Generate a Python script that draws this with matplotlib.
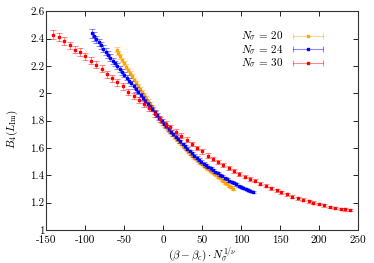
import matplotlib
matplotlib.use("Agg")
import matplotlib.pyplot as plt
from matplotlib.colors import to_rgba
from matplotlib.legend_handler import HandlerBase
from matplotlib.lines import Line2D
from matplotlib.ticker import FuncFormatter

plt.rcParams["font.family"] = ["cmr10", "DejaVu Serif"]
plt.rcParams["mathtext.fontset"] = "cm"
plt.rcParams["axes.unicode_minus"] = False
plt.rcParams["font.size"] = 8

# N_sigma = 20
x20 = [-60, -57.5, -55, -52.5, -50, -47.5, -45, -42.5, -40, -37.5, -35, -32.5, -30,
       -27.5, -25, -22.5, -20, -17.5, -15, -12.5, -10, -7.5, -5, -2.5, 0, 2.5, 5, 7.5,
       10, 12.5, 15, 17.5, 20, 22.5, 25, 27.5, 30, 32.5, 35, 37.5, 40, 42.5, 45, 47.5,
       50, 52.5, 55, 57.5, 60, 62.5, 65, 67.5, 70, 72.5, 75, 77.5, 80, 82.5, 85, 87.5, 90]
y20 = [2.320, 2.295, 2.270, 2.245, 2.220, 2.196, 2.172, 2.149, 2.125, 2.101, 2.077, 2.054,
       2.030, 2.008, 1.987, 1.966, 1.945, 1.924, 1.902, 1.881, 1.860, 1.840, 1.820, 1.800,
       1.780, 1.762, 1.745, 1.727, 1.710, 1.694, 1.677, 1.661, 1.645, 1.630, 1.615, 1.600,
       1.585, 1.571, 1.557, 1.544, 1.530, 1.517, 1.505, 1.492, 1.480, 1.468, 1.457, 1.446,
       1.435, 1.424, 1.413, 1.401, 1.390, 1.379, 1.367, 1.356, 1.345, 1.334, 1.322, 1.311, 1.300]
e20 = [0.016, 0.016, 0.016, 0.015, 0.015, 0.015, 0.015, 0.014, 0.014, 0.014,
       0.014, 0.013, 0.013, 0.013, 0.013, 0.012, 0.012, 0.012, 0.012, 0.011,
       0.011, 0.011, 0.011, 0.010, 0.010, 0.010, 0.010, 0.010, 0.009, 0.009,
       0.009, 0.009, 0.009, 0.009, 0.008, 0.008, 0.008, 0.008, 0.008, 0.008,
       0.008, 0.007, 0.007, 0.007, 0.007, 0.007, 0.007, 0.007, 0.007, 0.007,
       0.006, 0.006, 0.006, 0.006, 0.006, 0.006, 0.006, 0.006, 0.006, 0.006, 0.006]

# N_sigma = 24
x24 = [-92, -89, -86, -83, -80, -77, -74, -71, -68, -65, -62, -59, -56, -53, -50, -47,
       -44, -41, -38, -35, -32, -29, -26, -23, -20, -17, -14, -11, -8, -5, -2, 1, 4, 7,
       10, 13, 16, 19, 22, 25, 28, 31, 34, 37, 40, 43, 46, 49, 52, 55, 58, 61, 64, 67,
       70, 73, 76, 79, 82, 85, 88, 91, 94, 97, 100, 103, 106, 109, 112, 115]
y24 = [2.438, 2.416, 2.394, 2.372, 2.350, 2.327, 2.305, 2.282, 2.261, 2.240,
       2.219, 2.198, 2.177, 2.156, 2.135, 2.114, 2.093, 2.072, 2.051, 2.030,
       2.009, 1.988, 1.967, 1.946, 1.925, 1.904, 1.883, 1.862, 1.841, 1.820,
       1.799, 1.779, 1.759, 1.739, 1.720, 1.702, 1.684, 1.666, 1.648, 1.630,
       1.612, 1.595, 1.578, 1.561, 1.545, 1.530, 1.515, 1.500, 1.486, 1.472,
       1.461, 1.451, 1.439, 1.427, 1.415, 1.404, 1.393, 1.382, 1.371, 1.361,
       1.351, 1.342, 1.333, 1.324, 1.315, 1.307, 1.300, 1.292, 1.285, 1.278]
e24 = [0.030, 0.030, 0.029, 0.028, 0.027, 0.026, 0.025, 0.024, 0.023, 0.022,
       0.021, 0.021, 0.020, 0.020, 0.019, 0.019, 0.018, 0.018, 0.017, 0.017,
       0.016, 0.016, 0.015, 0.015, 0.015, 0.014, 0.014, 0.014, 0.013, 0.013,
       0.013, 0.012, 0.012, 0.012, 0.012, 0.011, 0.011, 0.011, 0.011, 0.010,
       0.010, 0.010, 0.010, 0.010, 0.010, 0.009, 0.009, 0.009, 0.009, 0.009,
       0.009, 0.009, 0.008, 0.008, 0.008, 0.008, 0.008, 0.008, 0.008, 0.008,
       0.008, 0.008, 0.008, 0.008, 0.008, 0.008, 0.008, 0.008, 0.008, 0.008]

# N_sigma = 30
x30 = [-141, -134, -127, -120, -113, -107, -100, -93, -86, -79, -72, -66, -59, -52,
       -45, -38, -31, -25, -18, -11, -4, 3, 9, 16, 23, 30, 37, 43, 50, 57, 64, 71, 77,
       84, 91, 98, 105, 111, 118, 125, 132, 139, 146, 152, 159, 166, 173, 180, 187,
       193, 200, 207, 214, 221, 228, 234, 240]
y30 = [2.43, 2.41, 2.38, 2.35, 2.32, 2.30, 2.27, 2.24, 2.21, 2.18, 2.14, 2.11, 2.08,
       2.05, 2.01, 1.98, 1.95, 1.92, 1.89, 1.85, 1.81, 1.775, 1.75, 1.72, 1.69, 1.66,
       1.63, 1.60, 1.575, 1.545, 1.52, 1.50, 1.475, 1.455, 1.43, 1.41, 1.39, 1.375,
       1.36, 1.34, 1.325, 1.305, 1.29, 1.275, 1.26, 1.245, 1.232, 1.222, 1.21, 1.20,
       1.19, 1.18, 1.17, 1.163, 1.155, 1.15, 1.145]
e30 = [0.030, 0.030, 0.029, 0.029, 0.028, 0.028, 0.027, 0.027, 0.026, 0.026,
       0.025, 0.025, 0.024, 0.024, 0.023, 0.023, 0.022, 0.022, 0.021, 0.021,
       0.020, 0.020, 0.019, 0.019, 0.018, 0.018, 0.017, 0.017, 0.016, 0.016,
       0.015, 0.015, 0.014, 0.014, 0.014, 0.013, 0.013, 0.013, 0.012, 0.012,
       0.012, 0.011, 0.011, 0.011, 0.010, 0.010, 0.010, 0.010, 0.009, 0.009,
       0.009, 0.009, 0.008, 0.008, 0.008, 0.008, 0.008]

series = [
    (x20, y20, e20, "orange", r"$N_\sigma\, =\, 20$"),
    (x24, y24, e24, "blue", r"$N_\sigma\, =\, 24$"),
    (x30, y30, e30, "red", r"$N_\sigma\, =\, 30$"),
]


class HorizontalErrHandler(HandlerBase):
    # gnuplot-like key sample: horizontal bar with end caps and a dot
    def create_artists(self, legend, orig_handle, xdescent, ydescent,
                       width, height, fontsize, trans):
        y = height / 2 - ydescent
        x0, x1 = -xdescent, width - xdescent
        c = orig_handle.get_color()
        light = to_rgba(c, 0.45)
        bar = Line2D([x0, x1], [y, y], color=light, lw=0.8, transform=trans)
        caps = Line2D([x0, x1], [y, y], ls="none", marker="|", ms=4.5, mew=0.8,
                      color=light, transform=trans)
        dot = Line2D([(x0 + x1) / 2], [y], ls="none", marker="s", ms=1.8,
                     color=c, transform=trans)
        return [bar, caps, dot]


fig, ax = plt.subplots(figsize=(3.74, 2.63), dpi=100)
fig.subplots_adjust(left=0.1243, right=0.9564, top=0.957, bottom=0.1255)

handles = []
for xs, ys, es, color, label in series:
    ax.errorbar(xs, ys, yerr=es, fmt="none", ecolor=to_rgba(color, 0.45),
                elinewidth=0.8, capsize=2.4, capthick=0.8)
    ax.plot(xs, ys, ls="none", marker="s", ms=1.8, color=color)
    handles.append(Line2D([], [], color=color, label=label))

ax.set_xlim(-150, 250)
ax.set_ylim(1, 2.6)
ax.set_xticks([-150, -100, -50, 0, 50, 100, 150, 200, 250])
ax.set_yticks([1, 1.2, 1.4, 1.6, 1.8, 2, 2.2, 2.4, 2.6])
ax.xaxis.set_major_formatter(FuncFormatter(lambda v, p: f"{v:g}"))
ax.yaxis.set_major_formatter(FuncFormatter(lambda v, p: f"{v:g}"))
ax.tick_params(direction="in", top=True, right=True, length=3.5, width=0.6)
ax.tick_params(axis="x", pad=4)
ax.tick_params(axis="y", pad=1.5)
for sp in ax.spines.values():
    sp.set_linewidth(0.8)
    sp.set_color("#333333")

ax.set_xlabel(r"$(\beta - \beta_c) \cdot N_\sigma^{1/\nu}$", labelpad=0)
ax.set_ylabel(r"$B_4(L_{\rm Im})$")
ax.yaxis.set_label_coords(-0.085, 0.46)

ax.legend(handles=handles, handler_map={Line2D: HorizontalErrHandler()},
          loc="upper right", bbox_to_anchor=(0.888, 0.915), frameon=False,
          markerfirst=False, handlelength=2.7, handletextpad=0.8,
          labelspacing=0.05, borderaxespad=0, borderpad=0)

fig.savefig("out.png", dpi=100)
